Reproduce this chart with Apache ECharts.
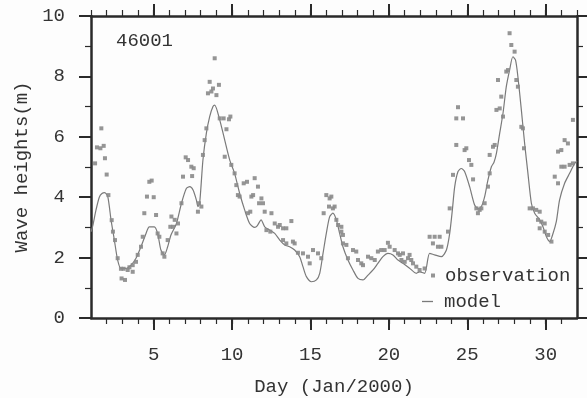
<!DOCTYPE html>
<html>
<head>
<meta charset="utf-8">
<script src="https://cdn.jsdelivr.net/npm/echarts@6.0.0/dist/echarts.min.js"></script>
<style>
  html, body { margin: 0; padding: 0; background: #fdfdfd; }
  #chart { width: 587px; height: 398px; }
</style>
</head>
<body>
<div id="chart"></div>
<script>
// Buoy 46001, significant wave height, January 2000
const stationName = '46001';

// Labelled (major) day ticks
const majorDays = [5, 10, 15, 20, 25, 30];

// Buoy observations: [day, wave height (m)]
const observation = [
  [1.26, 5.12], [1.38, 5.65], [1.60, 5.62], [1.66, 6.28], [1.81, 5.70], [1.89, 5.29],
  [2.00, 4.75], [2.11, 4.07], [2.32, 3.24], [2.40, 2.86], [2.53, 2.58], [2.70, 1.98],
  [2.91, 1.63], [2.95, 1.31], [3.08, 1.63], [3.17, 1.26], [3.34, 1.59], [3.45, 1.68],
  [3.66, 1.75], [3.66, 1.53], [3.87, 1.86], [3.98, 2.09], [4.19, 2.36], [4.30, 2.69],
  [4.40, 3.47], [4.57, 4.02], [4.72, 4.51], [4.87, 4.55], [5.00, 4.00], [5.15, 3.41],
  [5.25, 2.80], [5.36, 2.69], [5.57, 2.14], [5.68, 2.03], [5.89, 2.58], [6.06, 3.02],
  [6.13, 3.36], [6.23, 3.02], [6.34, 3.25], [6.45, 2.80], [6.55, 3.13], [6.77, 3.80],
  [6.87, 4.68], [7.04, 5.32], [7.19, 5.23], [7.40, 5.01], [7.45, 4.70], [7.55, 4.96],
  [7.82, 3.52], [7.89, 3.80], [8.04, 3.69], [8.14, 5.40], [8.25, 5.89], [8.36, 6.28],
  [8.46, 7.44], [8.57, 7.82], [8.68, 7.50], [8.78, 7.60], [8.89, 8.60], [9.00, 7.38],
  [9.16, 7.72], [9.21, 6.61], [9.46, 6.61], [9.53, 5.34], [9.64, 6.25], [9.80, 6.58],
  [9.89, 6.67], [9.95, 5.07], [10.16, 4.79], [10.27, 4.40], [10.37, 4.07], [10.48, 4.02],
  [10.74, 4.46], [10.95, 4.51], [11.01, 3.47], [11.16, 3.52], [11.23, 4.02], [11.34, 4.07],
  [11.44, 4.63], [11.65, 4.35], [11.72, 3.80], [11.87, 3.96], [11.97, 3.80], [12.08, 3.52],
  [12.19, 2.91], [12.44, 2.86], [12.51, 3.47], [12.72, 3.13], [12.93, 3.02], [13.04, 3.08],
  [13.25, 2.97], [13.25, 2.58], [13.46, 2.97], [13.46, 2.47], [13.78, 3.21], [13.88, 2.53],
  [13.99, 2.47], [14.20, 2.16], [14.52, 2.14], [14.84, 2.03], [14.95, 1.81], [15.16, 2.25],
  [15.48, 2.14], [15.69, 1.98], [15.84, 3.47], [16.01, 4.07], [16.18, 3.69], [16.22, 3.96],
  [16.33, 4.02], [16.43, 3.63], [16.54, 3.69], [16.65, 3.25], [16.76, 3.08], [16.97, 3.02],
  [16.97, 2.86], [17.07, 2.75], [17.07, 2.47], [17.29, 2.42], [17.39, 1.98], [17.71, 2.25],
  [17.92, 2.20], [18.03, 1.92], [18.24, 1.81], [18.35, 1.75], [18.67, 2.03], [18.88, 1.98],
  [19.10, 1.92], [19.30, 2.20], [19.51, 2.25], [19.73, 2.25], [19.94, 2.49], [20.05, 2.36],
  [20.37, 2.25], [20.58, 2.14], [20.69, 2.09], [20.80, 1.92], [20.90, 2.14], [21.01, 1.86],
  [21.22, 1.98], [21.32, 2.09], [21.43, 1.92], [21.54, 1.81], [21.75, 1.70], [21.96, 1.59],
  [22.28, 1.64], [22.60, 2.69], [22.81, 2.47], [22.92, 2.69], [23.13, 2.36], [23.24, 2.69],
  [23.35, 2.36], [23.77, 2.86], [23.88, 3.63], [24.09, 4.74], [24.30, 5.73], [24.30, 6.61],
  [24.41, 6.98], [24.73, 6.61], [24.83, 5.56], [24.94, 5.62], [25.11, 5.23], [25.26, 5.07],
  [25.37, 4.59], [25.58, 3.63], [25.68, 3.47], [25.79, 3.58], [25.90, 3.63], [26.11, 3.80],
  [26.32, 4.35], [26.43, 4.79], [26.43, 5.40], [26.64, 5.67], [26.75, 5.73], [26.86, 6.89],
  [26.96, 7.88], [27.07, 6.94], [27.17, 7.33], [27.28, 6.67], [27.49, 8.16], [27.60, 8.21],
  [27.70, 9.43], [27.81, 9.04], [28.02, 8.82], [28.13, 7.88], [28.23, 7.66], [28.45, 6.33],
  [28.55, 6.28], [28.62, 5.62], [28.98, 3.63], [29.19, 3.63], [29.40, 3.58], [29.51, 3.25],
  [29.62, 3.52], [29.62, 2.97], [29.72, 3.19], [29.94, 3.13], [29.94, 2.86], [30.16, 2.75],
  [30.37, 2.53], [30.58, 4.68], [30.79, 4.46], [30.79, 5.51], [31.00, 5.56], [31.00, 5.01],
  [31.21, 5.89], [31.21, 5.01], [31.42, 5.78], [31.53, 5.07], [31.74, 5.12], [31.74, 6.56]
];

// Wave model hindcast: [day, wave height (m)]
const model = [
  [1.00, 2.85], [1.11, 3.05], [1.32, 3.58], [1.53, 4.00], [1.70, 4.12], [1.87, 4.15],
  [2.07, 4.02], [2.28, 3.24], [2.49, 2.58], [2.70, 1.92], [2.91, 1.64], [3.23, 1.64],
  [3.55, 1.75], [3.87, 1.98], [4.19, 2.36], [4.51, 2.80], [4.72, 3.02], [5.04, 3.02],
  [5.25, 2.80], [5.46, 2.25], [5.68, 2.09], [5.89, 2.36], [6.10, 2.75], [6.45, 3.13],
  [6.77, 3.80], [7.08, 4.29], [7.30, 4.35], [7.51, 4.24], [7.72, 3.91], [7.82, 3.69],
  [7.93, 3.80], [8.14, 5.23], [8.36, 6.12], [8.57, 6.67], [8.78, 7.00], [8.89, 7.05],
  [9.21, 6.56], [9.53, 5.89], [9.85, 5.23], [10.16, 4.79], [10.48, 4.13], [10.80, 3.58],
  [11.12, 3.13], [11.44, 3.00], [11.60, 3.05], [11.85, 3.25], [12.08, 3.02], [12.40, 2.91],
  [12.72, 2.80], [13.04, 2.58], [13.36, 2.42], [13.67, 2.36], [13.99, 2.25], [14.31, 2.03],
  [14.52, 1.70], [14.74, 1.37], [15.06, 1.20], [15.38, 1.26], [15.59, 1.48], [15.80, 2.14],
  [16.01, 2.80], [16.22, 3.35], [16.43, 3.47], [16.65, 3.25], [16.86, 2.80], [17.07, 2.36],
  [17.39, 1.92], [17.71, 1.59], [18.03, 1.31], [18.35, 1.26], [18.67, 1.42], [18.99, 1.59],
  [19.30, 1.81], [19.62, 2.03], [19.94, 2.14], [20.26, 2.09], [20.58, 1.92], [20.90, 1.81],
  [21.32, 1.65], [21.75, 1.48], [21.96, 1.53], [22.28, 1.48], [22.60, 2.14], [22.92, 2.09],
  [23.35, 2.03], [23.67, 2.25], [23.88, 2.80], [24.05, 3.58], [24.20, 4.35], [24.41, 4.85],
  [24.62, 4.95], [24.83, 4.85], [25.15, 4.35], [25.47, 3.74], [25.68, 3.63], [25.90, 3.69],
  [26.11, 4.02], [26.32, 4.57], [26.54, 5.01], [26.70, 5.15], [26.86, 5.45], [27.07, 6.12],
  [27.28, 6.78], [27.49, 7.66], [27.70, 8.21], [27.91, 8.65], [28.08, 8.54], [28.23, 7.99],
  [28.45, 6.89], [28.66, 5.78], [28.87, 4.79], [29.09, 3.80], [29.30, 3.47], [29.62, 3.25],
  [29.83, 3.02], [30.05, 2.69], [30.26, 2.53], [30.47, 2.80], [30.68, 3.19], [30.89, 3.91],
  [31.21, 4.46], [31.53, 4.79], [31.85, 5.12], [32.00, 5.20]
];

const FONT = '"Liberation Mono", "DejaVu Sans Mono", monospace';
const INK = '#2a2a2a';
const TEXT = '#333';
const MARK = '#7a7a7a';
const DOT = '#8a8a8a';
const NAME_STYLE = { fontFamily: FONT, fontSize: 19, color: TEXT };

const chart = echarts.init(document.getElementById('chart'), null, { renderer: 'canvas' });

// Day axis with a short tick on every day; labels only on multiples of five
function dailyAxis(position, showLabels, name) {
  return {
    type: 'value', position: position, min: 1, max: 32, interval: 1,
    name: name || '', nameLocation: 'middle', nameGap: 59, nameTextStyle: NAME_STYLE,
    axisLine: { show: true, onZero: false, lineStyle: { color: INK, width: 2.5 } },
    axisTick: { show: true, length: 6, lineStyle: { color: INK, width: 1.2 } },
    axisLabel: {
      show: showLabels, margin: 27, fontFamily: FONT, fontSize: 19, color: TEXT,
      showMinLabel: false, showMaxLabel: false,
      formatter: function (v) { return majorDays.indexOf(v) >= 0 ? String(v) : ''; }
    },
    splitLine: { show: false }
  };
}

// Companion axis carrying only the longer ticks at the labelled days
function majorTickAxis(position) {
  return {
    type: 'value', position: position, min: 1, max: 32,
    axisLine: { show: false, onZero: false },
    axisTick: { show: true, customValues: majorDays, length: 12,
      lineStyle: { color: INK, width: 2 } },
    axisLabel: { show: false },
    splitLine: { show: false }
  };
}

function heightAxis(position, showLabels, name) {
  return {
    type: 'value', position: position, min: 0, max: 10, interval: 2,
    name: name || '', nameLocation: 'middle', nameGap: 58, nameTextStyle: NAME_STYLE,
    axisLine: { show: true, onZero: false, lineStyle: { color: INK, width: 2.5 } },
    axisTick: { show: true, length: 12, lineStyle: { color: INK, width: 2 } },
    minorTick: { show: true, splitNumber: 2, length: 6, lineStyle: { color: INK, width: 1.2 } },
    axisLabel: { show: showLabels, margin: 26, fontFamily: FONT, fontSize: 19, color: TEXT },
    splitLine: { show: false }
  };
}

const option = {
  backgroundColor: '#fdfdfd',
  animation: false,
  grid: { left: 91, right: 10, top: 16, bottom: 80, outerBoundsMode: 'none', containLabel: false },
  xAxis: [
    dailyAxis('bottom', true, 'Day (Jan/2000)'),
    majorTickAxis('bottom'),
    dailyAxis('top', false),
    majorTickAxis('top')
  ],
  yAxis: [
    heightAxis('left', true, 'Wave heights(m)'),
    heightAxis('right', false)
  ],
  legend: [
    {
      data: [{ name: 'observation', icon: 'rect', itemStyle: { color: DOT, borderWidth: 0 } }],
      orient: 'vertical', left: 431, top: 266,
      itemWidth: 4, itemHeight: 4, padding: 0,
      textStyle: { fontFamily: FONT, fontSize: 19, color: TEXT, padding: [0, 0, 0, 5] }
    },
    {
      data: [{ name: 'model', icon: 'rect', itemStyle: { color: MARK, borderWidth: 0 } }],
      orient: 'vertical', left: 422, top: 292,
      itemWidth: 11, itemHeight: 1.3, padding: 0,
      textStyle: { fontFamily: FONT, fontSize: 19, color: TEXT, padding: [0, 0, 0, 6] }
    }
  ],
  graphic: [{
    type: 'text', left: 116, top: 31,
    style: { text: stationName, font: '19px ' + FONT, fill: TEXT }
  }],
  series: [
    {
      name: 'observation', type: 'scatter', data: observation,
      xAxisIndex: 0, yAxisIndex: 0,
      symbol: 'rect', symbolSize: 4,
      itemStyle: { color: DOT, opacity: 0.9 },
      z: 3
    },
    {
      name: 'model', type: 'line', data: model,
      xAxisIndex: 0, yAxisIndex: 0,
      symbol: 'none', smooth: 0.25,
      lineStyle: { color: MARK, width: 1.2 },
      z: 2
    }
  ]
};

chart.setOption(option);
</script>
</body>
</html>
